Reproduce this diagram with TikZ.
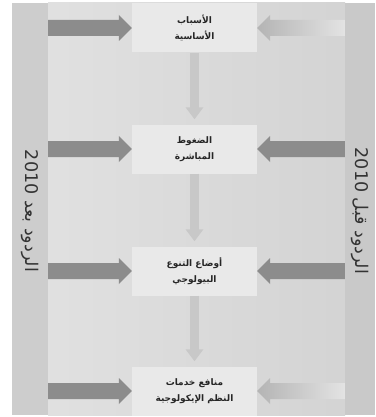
\documentclass[tikz,border=0pt]{standalone}
\usepackage{fontspec}
\setmainfont{DejaVu Sans}
\newfontfamily\arabicfont[Script=Arabic]{DejaVu Sans}
\TeXXeTstate=1
\usetikzlibrary{positioning,arrows.meta,calc}
\definecolor{stripL}{HTML}{CDCDCD}
\definecolor{stripR}{HTML}{C9C9C9}
\definecolor{boxgray}{HTML}{E9E9E9}
\definecolor{darkarrow}{HTML}{8C8C8C}
\definecolor{downgray}{HTML}{C8C8C8}
\definecolor{fadeA}{HTML}{B4B4B4}
\definecolor{fadeB}{HTML}{E3E3E3}
\newcommand{\ar}[1]{\beginR #1\endR}
% fat horizontal arrow, #2 = tail, #3 = tip
\newcommand{\fatarrow}[3]{%
  \path[#1] let \p1=(#2), \p2=(#3), \n1={((\x2>\x1)*2-1)*13} in
    (\x1,\y1+8pt) -- (\x2-\n1*1pt,\y1+8pt) -- (\x2-\n1*1pt,\y1+13pt) -- (\x2,\y1)
    -- (\x2-\n1*1pt,\y1-13pt) -- (\x2-\n1*1pt,\y1-8pt) -- (\x1,\y1-8pt) -- cycle;}

\begin{document}
\begin{tikzpicture}[x=1pt,y=-1pt]
 \tikzset{box/.style={fill=boxgray,minimum width=125pt,minimum height=49pt,inner sep=0pt,
   align=center,text=black!85,font=\arabicfont\bfseries\fontsize{9}{16}\selectfont},
   strip/.style={inner sep=0pt,minimum height=412pt},
   down/.style={draw=downgray,line width=9pt,-{Triangle[width=17pt,length=12pt]},shorten >=5pt},
   side/.style={rotate=-90,text=black!80,font=\arabicfont\fontsize{17.5}{17.5}\selectfont}}
 \useasboundingbox (0,0) rectangle (375,417);
 \fill[white] (0,0) rectangle (375,417);
 \shade[left color=black!12,middle color=black!5,right color=black!17] (48,3) rectangle (345,415);

 \node (lstrip) [strip,fill=stripL,minimum width=36pt] at (30,209) {};
 \node (rstrip) [strip,fill=stripR,minimum width=30pt] at (360,209) {};
 \node (lbl) [side] at (30,211) {\ar{الردود بعد \beginL 2010\endL}};
 \node (rbl) [side] at (360,211) {\ar{الردود قبل \beginL 2010\endL}};

 \node (b1) [box] at (194.5,28) {\ar{الأسباب}\\\ar{الأساسية}};
 \node (b2) [box] at (194.5,149) {\ar{الضغوط}\\\ar{المباشرة}};
 \node (b3) [box] at (194.5,271) {\ar{أوضاع التنوع}\\\ar{البيولوجي}};
 \node (b4) [box] at (194.5,391) {\ar{منافع خدمات}\\\ar{النظم الإيكولوجية}};

 \draw[down] (b1) -- (b2);
 \draw[down] (b2) -- (b3);
 \draw[down] (b3) -- (b4);

 \fatarrow{fill=darkarrow}{lstrip.east |- b1}{b1.west}
 \fatarrow{fill=darkarrow}{lstrip.east |- b2}{b2.west}
 \fatarrow{fill=darkarrow}{lstrip.east |- b3}{b3.west}
 \fatarrow{fill=darkarrow}{lstrip.east |- b4}{b4.west}
 \fatarrow{left color=fadeA,right color=fadeB}{rstrip.west |- b1}{b1.east}
 \fatarrow{fill=darkarrow}{rstrip.west |- b2}{b2.east}
 \fatarrow{fill=darkarrow}{rstrip.west |- b3}{b3.east}
 \fatarrow{left color=fadeA,right color=fadeB}{rstrip.west |- b4}{b4.east}
\end{tikzpicture}
\end{document}
